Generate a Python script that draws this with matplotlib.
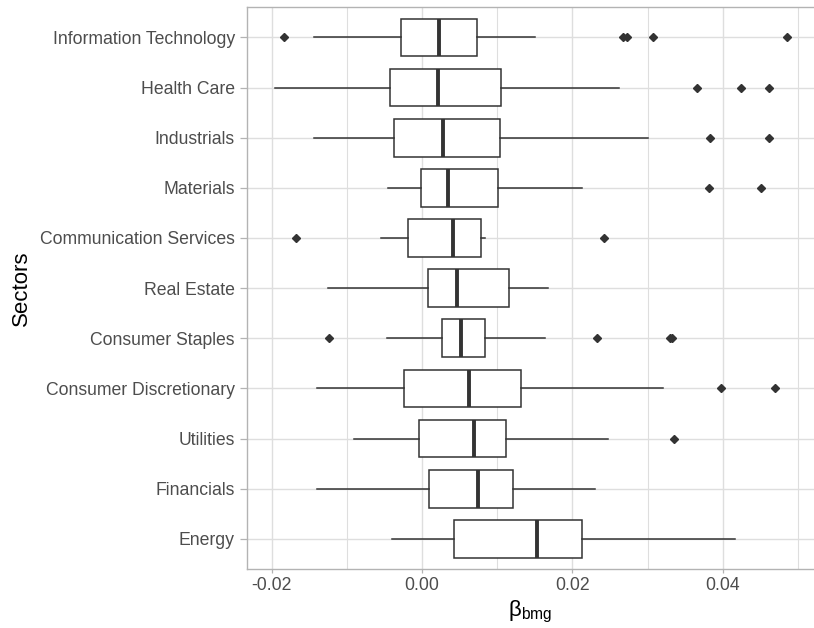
import matplotlib
matplotlib.use("Agg")
import matplotlib.pyplot as plt
import numpy as np
from matplotlib.ticker import FixedLocator, FormatStrFormatter

plt.rcParams['font.family'] = ['Liberation Sans', 'DejaVu Sans']
plt.rcParams['axes.unicode_minus'] = False

# sectors listed top to bottom
sectors = ["Information Technology", "Health Care", "Industrials", "Materials",
           "Communication Services", "Real Estate", "Consumer Staples",
           "Consumer Discretionary", "Utilities", "Financials", "Energy"]

# box statistics
whislo = [-0.0144, -0.0195, -0.0144, -0.0045, -0.0055, -0.0125, -0.0047, -0.0139, -0.0090, -0.0140, -0.0040]
q1     = [-0.0028, -0.0043, -0.0037, -0.0002, -0.0019, 0.0008, 0.0026, -0.0024, -0.0004, 0.0009, 0.0043]
median = [0.0022, 0.0021, 0.0028, 0.0035, 0.0041, 0.0047, 0.0052, 0.0063, 0.0069, 0.0075, 0.0153]
q3     = [0.0073, 0.0105, 0.0103, 0.0101, 0.0079, 0.0116, 0.0084, 0.0131, 0.0112, 0.0121, 0.0213]
whishi = [0.0150, 0.0262, 0.0301, 0.0213, 0.0084, 0.0168, 0.0164, 0.0320, 0.0247, 0.0230, 0.0416]
outliers = [
    [-0.0183, 0.0267, 0.0273, 0.0307, 0.0485],
    [0.0366, 0.0424, 0.0461],
    [0.0383, 0.0461],
    [0.0381, 0.0450],
    [-0.0167, 0.0242],
    [],
    [-0.0124, 0.0232, 0.0329, 0.0332],
    [0.0398, 0.0469],
    [0.0335],
    [],
    [],
]

x_major = [-0.02, 0.00, 0.02, 0.04]
x_minor = [-0.01, 0.01, 0.03, 0.05]

dark = "#333333"
grid_col = "#DEDEDE"
border_col = "#B3B3B3"
text_col = "#4D4D4D"

fig = plt.figure(figsize=(8.14, 6.28), dpi=100)
ax = fig.add_axes([246.7 / 814, 1 - 569 / 628, 1 - 246.7 / 814, (569 - 7.3) / 628])

n = len(sectors)
positions = np.arange(n, 0, -1)
stats = []
for i in range(n):
    stats.append(dict(label=sectors[i], whislo=whislo[i], q1=q1[i], med=median[i],
                      q3=q3[i], whishi=whishi[i], fliers=outliers[i]))

ax.bxp(stats, positions=positions, vert=False, widths=0.75, showcaps=False,
       patch_artist=True, zorder=3,
       boxprops=dict(facecolor="white", edgecolor=dark, linewidth=1.1),
       medianprops=dict(color=dark, linewidth=2.8, solid_capstyle="butt"),
       whiskerprops=dict(color=dark, linewidth=1.1),
       flierprops=dict(marker="D", markersize=3.9, markerfacecolor=dark,
                       markeredgecolor=dark))

ax.set_xlim(-0.0233, 0.0521)
ax.set_ylim(0.4, n + 0.6)

ax.xaxis.set_major_locator(FixedLocator(x_major))
ax.xaxis.set_minor_locator(FixedLocator(x_minor))
ax.xaxis.set_major_formatter(FormatStrFormatter("%.2f"))
ax.set_yticks(positions)
ax.set_yticklabels(sectors)

ax.grid(True, which="major", color=grid_col, linewidth=1.0, zorder=0)
ax.grid(True, which="minor", axis="x", color=grid_col, linewidth=0.8, zorder=0)
ax.set_axisbelow(True)

for side in ["left", "bottom", "top"]:
    ax.spines[side].set_color(border_col)
    ax.spines[side].set_linewidth(1.0)
ax.spines["right"].set_visible(False)

ax.tick_params(axis="y", length=5.2, width=0.9, color=border_col, pad=3.4,
               labelsize=12.7, labelcolor=text_col)
ax.tick_params(axis="x", which="major", length=3.1, width=0.9, color=border_col,
               pad=3.0, labelsize=12.7, labelcolor=text_col)
ax.tick_params(axis="x", which="minor", length=0)

ax.set_ylabel("Sectors", fontsize=16, color="black", labelpad=6)
ax.set_xlabel(r"$\mathregular{\beta_{bmg}}$", fontsize=16, color="black", labelpad=3)

fig.savefig("out.png", dpi=100)
